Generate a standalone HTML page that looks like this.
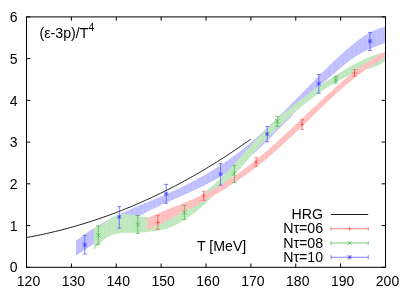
<!DOCTYPE html>
<html><head><meta charset="utf-8"><title>chart</title>
<style>
html,body{margin:0;padding:0;background:#fff;}
body{width:411px;height:296px;position:relative;overflow:hidden;font-family:"Liberation Sans",sans-serif;}
.t{position:absolute;white-space:nowrap;line-height:0;color:#000;font-family:"Liberation Sans",sans-serif;}
</style></head><body>
<svg width="411" height="296" viewBox="0 0 411 296" style="position:absolute;left:0;top:0">
<rect x="0" y="0" width="411" height="296" fill="#fff"/>
<defs><clipPath id="c"><rect x="26.50" y="16.90" width="359.00" height="250.40"/></clipPath></defs>
<path d="M26.50,267.30 v-3.8 M26.50,16.90 v3.8 M71.38,267.30 v-3.8 M71.38,16.90 v3.8 M116.25,267.30 v-3.8 M116.25,16.90 v3.8 M161.12,267.30 v-3.8 M161.12,16.90 v3.8 M206.00,267.30 v-3.8 M206.00,16.90 v3.8 M250.88,267.30 v-3.8 M250.88,16.90 v3.8 M295.75,267.30 v-3.8 M295.75,16.90 v3.8 M340.62,267.30 v-3.8 M340.62,16.90 v3.8 M385.50,267.30 v-3.8 M385.50,16.90 v3.8 M26.50,267.30 h3.8 M385.50,267.30 h-3.8 M26.50,225.57 h3.8 M385.50,225.57 h-3.8 M26.50,183.83 h3.8 M385.50,183.83 h-3.8 M26.50,142.10 h3.8 M385.50,142.10 h-3.8 M26.50,100.37 h3.8 M385.50,100.37 h-3.8 M26.50,58.63 h3.8 M385.50,58.63 h-3.8 M26.50,16.90 h3.8 M385.50,16.90 h-3.8" fill="none" stroke="#000" stroke-width="1.0"/>
<g clip-path="url(#c)">
<path id="b1" d="M75.90,240.87 L77.40,239.69 L78.91,238.54 L80.41,237.42 L81.91,236.31 L83.41,235.23 L84.92,234.16 L86.42,233.12 L87.92,232.09 L89.43,231.09 L90.93,230.10 L92.43,229.13 L93.93,228.18 L95.44,227.25 L96.94,226.34 L98.44,225.44 L99.95,224.55 L101.45,223.69 L102.95,222.83 L104.46,222.00 L105.96,221.17 L107.46,220.36 L108.96,219.56 L110.47,218.78 L111.97,218.01 L113.47,217.24 L114.98,216.49 L116.48,215.76 L117.98,215.03 L119.48,214.31 L120.99,213.60 L122.49,212.90 L123.99,212.20 L125.50,211.52 L127.00,210.84 L128.50,210.17 L130.00,209.51 L131.51,208.85 L133.01,208.19 L134.51,207.54 L136.02,206.90 L137.52,206.26 L139.02,205.62 L140.53,204.99 L142.03,204.36 L143.53,203.73 L145.03,203.11 L146.54,202.48 L148.04,201.85 L149.54,201.23 L151.05,200.60 L152.55,199.98 L154.05,199.35 L155.55,198.72 L157.06,198.09 L158.56,197.45 L160.06,196.82 L161.57,196.18 L163.07,195.53 L164.57,194.88 L166.07,194.22 L167.58,193.56 L169.08,192.90 L170.58,192.23 L172.09,191.55 L173.59,190.86 L175.09,190.17 L176.60,189.47 L178.10,188.77 L179.60,188.06 L181.10,187.34 L182.61,186.61 L184.11,185.87 L185.61,185.13 L187.12,184.38 L188.62,183.62 L190.12,182.86 L191.62,182.08 L193.13,181.30 L194.63,180.50 L196.13,179.70 L197.64,178.89 L199.14,178.07 L200.64,177.24 L202.14,176.40 L203.65,175.55 L205.15,174.68 L206.65,173.81 L208.16,172.93 L209.66,172.04 L211.16,171.13 L212.67,170.22 L214.17,169.29 L215.67,168.35 L217.17,167.40 L218.68,166.44 L220.18,165.46 L221.68,164.48 L223.19,163.48 L224.69,162.47 L226.19,161.44 L227.69,160.40 L229.20,159.35 L230.70,158.29 L232.20,157.21 L233.71,156.12 L235.21,155.01 L236.71,153.89 L238.21,152.76 L239.72,151.61 L241.22,150.44 L242.72,149.26 L244.23,148.07 L245.73,146.86 L247.23,145.63 L248.73,144.39 L250.24,143.13 L251.74,141.85 L253.24,140.55 L254.75,139.24 L256.25,137.91 L257.75,136.55 L259.26,135.18 L260.76,133.79 L262.26,132.38 L263.76,130.96 L265.27,129.53 L266.77,128.09 L268.27,126.64 L269.78,125.19 L271.28,123.73 L272.78,122.27 L274.28,120.82 L275.79,119.36 L277.29,117.90 L278.79,116.45 L280.30,114.98 L281.80,113.52 L283.30,112.05 L284.80,110.58 L286.31,109.10 L287.81,107.62 L289.31,106.13 L290.82,104.63 L292.32,103.12 L293.82,101.60 L295.33,100.08 L296.83,98.54 L298.33,97.00 L299.83,95.46 L301.34,93.91 L302.84,92.35 L304.34,90.80 L305.85,89.24 L307.35,87.69 L308.85,86.14 L310.35,84.59 L311.86,83.04 L313.36,81.50 L314.86,79.96 L316.37,78.43 L317.87,76.91 L319.37,75.39 L320.87,73.88 L322.38,72.38 L323.88,70.88 L325.38,69.39 L326.89,67.92 L328.39,66.45 L329.89,64.99 L331.40,63.55 L332.90,62.11 L334.40,60.69 L335.90,59.28 L337.41,57.88 L338.91,56.50 L340.41,55.13 L341.92,53.78 L343.42,52.44 L344.92,51.12 L346.42,49.81 L347.93,48.52 L349.43,47.25 L350.93,46.00 L352.44,44.77 L353.94,43.55 L355.44,42.37 L356.94,41.20 L358.45,40.07 L359.95,38.96 L361.45,37.89 L362.96,36.85 L364.46,35.85 L365.96,34.89 L367.47,33.96 L368.97,33.08 L370.47,32.24 L371.97,31.45 L373.48,30.71 L374.98,30.01 L376.48,29.37 L377.99,28.79 L379.49,28.26 L380.99,27.79 L382.49,27.38 L384.00,27.03 L385.50,26.75 L385.50,43.06 L384.00,43.55 L382.49,44.05 L380.99,44.57 L379.49,45.10 L377.99,45.65 L376.48,46.22 L374.98,46.80 L373.48,47.41 L371.97,48.03 L370.47,48.68 L368.97,49.35 L367.47,50.05 L365.96,50.78 L364.46,51.53 L362.96,52.31 L361.45,53.12 L359.95,53.96 L358.45,54.84 L356.94,55.75 L355.44,56.70 L353.94,57.68 L352.44,58.70 L350.93,59.76 L349.43,60.86 L347.93,61.99 L346.42,63.16 L344.92,64.35 L343.42,65.56 L341.92,66.80 L340.41,68.06 L338.91,69.33 L337.41,70.61 L335.90,71.90 L334.40,73.20 L332.90,74.50 L331.40,75.79 L329.89,77.09 L328.39,78.37 L326.89,79.65 L325.38,80.91 L323.88,82.16 L322.38,83.38 L320.87,84.58 L319.37,85.76 L317.87,86.90 L316.37,88.03 L314.86,89.15 L313.36,90.29 L311.86,91.47 L310.35,92.71 L308.85,94.02 L307.35,95.42 L305.85,96.94 L304.34,98.59 L302.84,100.39 L301.34,102.35 L299.83,104.48 L298.33,106.69 L296.83,108.94 L295.33,111.15 L293.82,113.26 L292.32,115.20 L290.82,116.97 L289.31,118.60 L287.81,120.13 L286.31,121.60 L284.80,123.03 L283.30,124.48 L281.80,125.95 L280.30,127.45 L278.79,128.96 L277.29,130.49 L275.79,132.03 L274.28,133.58 L272.78,135.13 L271.28,136.67 L269.78,138.21 L268.27,139.75 L266.77,141.26 L265.27,142.76 L263.76,144.24 L262.26,145.69 L260.76,147.12 L259.26,148.51 L257.75,149.88 L256.25,151.23 L254.75,152.55 L253.24,153.84 L251.74,155.11 L250.24,156.36 L248.73,157.58 L247.23,158.78 L245.73,159.95 L244.23,161.11 L242.72,162.24 L241.22,163.35 L239.72,164.44 L238.21,165.51 L236.71,166.56 L235.21,167.59 L233.71,168.61 L232.20,169.60 L230.70,170.58 L229.20,171.54 L227.69,172.48 L226.19,173.41 L224.69,174.32 L223.19,175.21 L221.68,176.09 L220.18,176.96 L218.68,177.81 L217.17,178.65 L215.67,179.48 L214.17,180.29 L212.67,181.09 L211.16,181.88 L209.66,182.66 L208.16,183.43 L206.65,184.19 L205.15,184.94 L203.65,185.68 L202.14,186.42 L200.64,187.14 L199.14,187.86 L197.64,188.57 L196.13,189.27 L194.63,189.97 L193.13,190.66 L191.62,191.35 L190.12,192.03 L188.62,192.71 L187.12,193.39 L185.61,194.06 L184.11,194.73 L182.61,195.39 L181.10,196.06 L179.60,196.73 L178.10,197.39 L176.60,198.05 L175.09,198.72 L173.59,199.39 L172.09,200.05 L170.58,200.72 L169.08,201.40 L167.58,202.07 L166.07,202.75 L164.57,203.44 L163.07,204.12 L161.57,204.82 L160.06,205.52 L158.56,206.22 L157.06,206.93 L155.55,207.65 L154.05,208.38 L152.55,209.11 L151.05,209.86 L149.54,210.61 L148.04,211.37 L146.54,212.15 L145.03,212.93 L143.53,213.72 L142.03,214.52 L140.53,215.34 L139.02,216.16 L137.52,216.99 L136.02,217.82 L134.51,218.67 L133.01,219.52 L131.51,220.39 L130.00,221.26 L128.50,222.13 L127.00,223.02 L125.50,223.91 L123.99,224.80 L122.49,225.71 L120.99,226.62 L119.48,227.53 L117.98,228.46 L116.48,229.38 L114.98,230.32 L113.47,231.25 L111.97,232.20 L110.47,233.14 L108.96,234.09 L107.46,235.05 L105.96,236.01 L104.46,236.97 L102.95,237.93 L101.45,238.90 L99.95,239.87 L98.44,240.85 L96.94,241.82 L95.44,242.80 L93.93,243.78 L92.43,244.77 L90.93,245.75 L89.43,246.73 L87.92,247.72 L86.42,248.70 L84.92,249.69 L83.41,250.68 L81.91,251.66 L80.41,252.65 L78.91,253.64 L77.40,254.62 L75.90,255.61 Z" fill="#bfbfff" stroke="none"/><clipPath id="cb1"><path d="M75.90,240.87 L77.40,239.69 L78.91,238.54 L80.41,237.42 L81.91,236.31 L83.41,235.23 L84.92,234.16 L86.42,233.12 L87.92,232.09 L89.43,231.09 L90.93,230.10 L92.43,229.13 L93.93,228.18 L95.44,227.25 L96.94,226.34 L98.44,225.44 L99.95,224.55 L101.45,223.69 L102.95,222.83 L104.46,222.00 L105.96,221.17 L107.46,220.36 L108.96,219.56 L110.47,218.78 L111.97,218.01 L113.47,217.24 L114.98,216.49 L116.48,215.76 L117.98,215.03 L119.48,214.31 L120.99,213.60 L122.49,212.90 L123.99,212.20 L125.50,211.52 L127.00,210.84 L128.50,210.17 L130.00,209.51 L131.51,208.85 L133.01,208.19 L134.51,207.54 L136.02,206.90 L137.52,206.26 L139.02,205.62 L140.53,204.99 L142.03,204.36 L143.53,203.73 L145.03,203.11 L146.54,202.48 L148.04,201.85 L149.54,201.23 L151.05,200.60 L152.55,199.98 L154.05,199.35 L155.55,198.72 L157.06,198.09 L158.56,197.45 L160.06,196.82 L161.57,196.18 L163.07,195.53 L164.57,194.88 L166.07,194.22 L167.58,193.56 L169.08,192.90 L170.58,192.23 L172.09,191.55 L173.59,190.86 L175.09,190.17 L176.60,189.47 L178.10,188.77 L179.60,188.06 L181.10,187.34 L182.61,186.61 L184.11,185.87 L185.61,185.13 L187.12,184.38 L188.62,183.62 L190.12,182.86 L191.62,182.08 L193.13,181.30 L194.63,180.50 L196.13,179.70 L197.64,178.89 L199.14,178.07 L200.64,177.24 L202.14,176.40 L203.65,175.55 L205.15,174.68 L206.65,173.81 L208.16,172.93 L209.66,172.04 L211.16,171.13 L212.67,170.22 L214.17,169.29 L215.67,168.35 L217.17,167.40 L218.68,166.44 L220.18,165.46 L221.68,164.48 L223.19,163.48 L224.69,162.47 L226.19,161.44 L227.69,160.40 L229.20,159.35 L230.70,158.29 L232.20,157.21 L233.71,156.12 L235.21,155.01 L236.71,153.89 L238.21,152.76 L239.72,151.61 L241.22,150.44 L242.72,149.26 L244.23,148.07 L245.73,146.86 L247.23,145.63 L248.73,144.39 L250.24,143.13 L251.74,141.85 L253.24,140.55 L254.75,139.24 L256.25,137.91 L257.75,136.55 L259.26,135.18 L260.76,133.79 L262.26,132.38 L263.76,130.96 L265.27,129.53 L266.77,128.09 L268.27,126.64 L269.78,125.19 L271.28,123.73 L272.78,122.27 L274.28,120.82 L275.79,119.36 L277.29,117.90 L278.79,116.45 L280.30,114.98 L281.80,113.52 L283.30,112.05 L284.80,110.58 L286.31,109.10 L287.81,107.62 L289.31,106.13 L290.82,104.63 L292.32,103.12 L293.82,101.60 L295.33,100.08 L296.83,98.54 L298.33,97.00 L299.83,95.46 L301.34,93.91 L302.84,92.35 L304.34,90.80 L305.85,89.24 L307.35,87.69 L308.85,86.14 L310.35,84.59 L311.86,83.04 L313.36,81.50 L314.86,79.96 L316.37,78.43 L317.87,76.91 L319.37,75.39 L320.87,73.88 L322.38,72.38 L323.88,70.88 L325.38,69.39 L326.89,67.92 L328.39,66.45 L329.89,64.99 L331.40,63.55 L332.90,62.11 L334.40,60.69 L335.90,59.28 L337.41,57.88 L338.91,56.50 L340.41,55.13 L341.92,53.78 L343.42,52.44 L344.92,51.12 L346.42,49.81 L347.93,48.52 L349.43,47.25 L350.93,46.00 L352.44,44.77 L353.94,43.55 L355.44,42.37 L356.94,41.20 L358.45,40.07 L359.95,38.96 L361.45,37.89 L362.96,36.85 L364.46,35.85 L365.96,34.89 L367.47,33.96 L368.97,33.08 L370.47,32.24 L371.97,31.45 L373.48,30.71 L374.98,30.01 L376.48,29.37 L377.99,28.79 L379.49,28.26 L380.99,27.79 L382.49,27.38 L384.00,27.03 L385.50,26.75 L385.50,43.06 L384.00,43.55 L382.49,44.05 L380.99,44.57 L379.49,45.10 L377.99,45.65 L376.48,46.22 L374.98,46.80 L373.48,47.41 L371.97,48.03 L370.47,48.68 L368.97,49.35 L367.47,50.05 L365.96,50.78 L364.46,51.53 L362.96,52.31 L361.45,53.12 L359.95,53.96 L358.45,54.84 L356.94,55.75 L355.44,56.70 L353.94,57.68 L352.44,58.70 L350.93,59.76 L349.43,60.86 L347.93,61.99 L346.42,63.16 L344.92,64.35 L343.42,65.56 L341.92,66.80 L340.41,68.06 L338.91,69.33 L337.41,70.61 L335.90,71.90 L334.40,73.20 L332.90,74.50 L331.40,75.79 L329.89,77.09 L328.39,78.37 L326.89,79.65 L325.38,80.91 L323.88,82.16 L322.38,83.38 L320.87,84.58 L319.37,85.76 L317.87,86.90 L316.37,88.03 L314.86,89.15 L313.36,90.29 L311.86,91.47 L310.35,92.71 L308.85,94.02 L307.35,95.42 L305.85,96.94 L304.34,98.59 L302.84,100.39 L301.34,102.35 L299.83,104.48 L298.33,106.69 L296.83,108.94 L295.33,111.15 L293.82,113.26 L292.32,115.20 L290.82,116.97 L289.31,118.60 L287.81,120.13 L286.31,121.60 L284.80,123.03 L283.30,124.48 L281.80,125.95 L280.30,127.45 L278.79,128.96 L277.29,130.49 L275.79,132.03 L274.28,133.58 L272.78,135.13 L271.28,136.67 L269.78,138.21 L268.27,139.75 L266.77,141.26 L265.27,142.76 L263.76,144.24 L262.26,145.69 L260.76,147.12 L259.26,148.51 L257.75,149.88 L256.25,151.23 L254.75,152.55 L253.24,153.84 L251.74,155.11 L250.24,156.36 L248.73,157.58 L247.23,158.78 L245.73,159.95 L244.23,161.11 L242.72,162.24 L241.22,163.35 L239.72,164.44 L238.21,165.51 L236.71,166.56 L235.21,167.59 L233.71,168.61 L232.20,169.60 L230.70,170.58 L229.20,171.54 L227.69,172.48 L226.19,173.41 L224.69,174.32 L223.19,175.21 L221.68,176.09 L220.18,176.96 L218.68,177.81 L217.17,178.65 L215.67,179.48 L214.17,180.29 L212.67,181.09 L211.16,181.88 L209.66,182.66 L208.16,183.43 L206.65,184.19 L205.15,184.94 L203.65,185.68 L202.14,186.42 L200.64,187.14 L199.14,187.86 L197.64,188.57 L196.13,189.27 L194.63,189.97 L193.13,190.66 L191.62,191.35 L190.12,192.03 L188.62,192.71 L187.12,193.39 L185.61,194.06 L184.11,194.73 L182.61,195.39 L181.10,196.06 L179.60,196.73 L178.10,197.39 L176.60,198.05 L175.09,198.72 L173.59,199.39 L172.09,200.05 L170.58,200.72 L169.08,201.40 L167.58,202.07 L166.07,202.75 L164.57,203.44 L163.07,204.12 L161.57,204.82 L160.06,205.52 L158.56,206.22 L157.06,206.93 L155.55,207.65 L154.05,208.38 L152.55,209.11 L151.05,209.86 L149.54,210.61 L148.04,211.37 L146.54,212.15 L145.03,212.93 L143.53,213.72 L142.03,214.52 L140.53,215.34 L139.02,216.16 L137.52,216.99 L136.02,217.82 L134.51,218.67 L133.01,219.52 L131.51,220.39 L130.00,221.26 L128.50,222.13 L127.00,223.02 L125.50,223.91 L123.99,224.80 L122.49,225.71 L120.99,226.62 L119.48,227.53 L117.98,228.46 L116.48,229.38 L114.98,230.32 L113.47,231.25 L111.97,232.20 L110.47,233.14 L108.96,234.09 L107.46,235.05 L105.96,236.01 L104.46,236.97 L102.95,237.93 L101.45,238.90 L99.95,239.87 L98.44,240.85 L96.94,241.82 L95.44,242.80 L93.93,243.78 L92.43,244.77 L90.93,245.75 L89.43,246.73 L87.92,247.72 L86.42,248.70 L84.92,249.69 L83.41,250.68 L81.91,251.66 L80.41,252.65 L78.91,253.64 L77.40,254.62 L75.90,255.61 Z"/></clipPath><path clip-path="url(#cb1)" d="M80.35,24.7 V257.5 M84.84,24.7 V257.5 M89.33,24.7 V257.5 M93.81,24.7 V257.5 M98.30,24.7 V257.5 M102.79,24.7 V257.5 M107.28,24.7 V257.5 M111.76,24.7 V257.5 M116.25,24.7 V257.5 M120.74,24.7 V257.5 M125.22,24.7 V257.5 M129.71,24.7 V257.5 M134.20,24.7 V257.5 M138.69,24.7 V257.5 M143.18,24.7 V257.5 M147.66,24.7 V257.5 M152.15,24.7 V257.5 M156.64,24.7 V257.5 M161.12,24.7 V257.5 M165.61,24.7 V257.5 M170.10,24.7 V257.5 M174.59,24.7 V257.5 M179.07,24.7 V257.5 M183.56,24.7 V257.5 M188.05,24.7 V257.5 M192.54,24.7 V257.5 M197.03,24.7 V257.5 M201.51,24.7 V257.5 M206.00,24.7 V257.5 M210.49,24.7 V257.5 M214.97,24.7 V257.5 M219.46,24.7 V257.5 M223.95,24.7 V257.5 M228.44,24.7 V257.5 M232.93,24.7 V257.5 M237.41,24.7 V257.5 M241.90,24.7 V257.5 M246.39,24.7 V257.5 M250.88,24.7 V257.5 M255.36,24.7 V257.5 M259.85,24.7 V257.5 M264.34,24.7 V257.5 M268.82,24.7 V257.5 M273.31,24.7 V257.5 M277.80,24.7 V257.5 M282.29,24.7 V257.5 M286.77,24.7 V257.5 M291.26,24.7 V257.5 M295.75,24.7 V257.5 M300.24,24.7 V257.5 M304.73,24.7 V257.5 M309.21,24.7 V257.5 M313.70,24.7 V257.5 M318.19,24.7 V257.5 M322.68,24.7 V257.5 M327.16,24.7 V257.5 M331.65,24.7 V257.5 M336.14,24.7 V257.5 M340.62,24.7 V257.5 M345.11,24.7 V257.5 M349.60,24.7 V257.5 M354.09,24.7 V257.5 M358.57,24.7 V257.5 M363.06,24.7 V257.5 M367.55,24.7 V257.5 M372.04,24.7 V257.5 M376.52,24.7 V257.5 M381.01,24.7 V257.5" fill="none" stroke="#fff" stroke-width="1.0" stroke-opacity="0.11"/>
<path id="b2" d="M93.90,228.08 L95.40,227.62 L96.91,227.04 L98.41,226.34 L99.91,225.55 L101.42,224.68 L102.92,223.75 L104.42,222.78 L105.92,221.79 L107.43,220.78 L108.93,219.79 L110.43,218.82 L111.94,217.90 L113.44,217.04 L114.94,216.25 L116.45,215.57 L117.95,215.00 L119.45,214.56 L120.96,214.27 L122.46,214.10 L123.96,214.05 L125.46,214.10 L126.97,214.23 L128.47,214.44 L129.97,214.69 L131.48,214.98 L132.98,215.29 L134.48,215.61 L135.99,215.92 L137.49,216.21 L138.99,216.46 L140.50,216.66 L142.00,216.82 L143.50,216.94 L145.01,217.02 L146.51,217.06 L148.01,217.06 L149.51,217.02 L151.02,216.94 L152.52,216.82 L154.02,216.66 L155.53,216.47 L157.03,216.23 L158.53,215.97 L160.04,215.66 L161.54,215.32 L163.04,214.94 L164.55,214.53 L166.05,214.08 L167.55,213.60 L169.05,213.09 L170.56,212.54 L172.06,211.96 L173.56,211.35 L175.07,210.70 L176.57,210.03 L178.07,209.32 L179.58,208.59 L181.08,207.82 L182.58,207.03 L184.09,206.20 L185.59,205.35 L187.09,204.47 L188.59,203.57 L190.10,202.63 L191.60,201.67 L193.10,200.69 L194.61,199.68 L196.11,198.64 L197.61,197.58 L199.12,196.49 L200.62,195.39 L202.12,194.25 L203.63,193.10 L205.13,191.92 L206.63,190.71 L208.14,189.48 L209.64,188.23 L211.14,186.95 L212.64,185.65 L214.15,184.32 L215.65,182.97 L217.15,181.59 L218.66,180.18 L220.16,178.75 L221.66,177.29 L223.17,175.81 L224.67,174.30 L226.17,172.76 L227.68,171.20 L229.18,169.61 L230.68,167.99 L232.18,166.35 L233.69,164.69 L235.19,163.01 L236.69,161.32 L238.20,159.62 L239.70,157.92 L241.20,156.21 L242.71,154.50 L244.21,152.79 L245.71,151.10 L247.22,149.41 L248.72,147.73 L250.22,146.07 L251.72,144.42 L253.23,142.78 L254.73,141.16 L256.23,139.56 L257.74,137.97 L259.24,136.41 L260.74,134.85 L262.25,133.32 L263.75,131.81 L265.25,130.31 L266.76,128.83 L268.26,127.38 L269.76,125.94 L271.26,124.51 L272.77,123.11 L274.27,121.72 L275.77,120.35 L277.28,118.99 L278.78,117.65 L280.28,116.33 L281.79,115.02 L283.29,113.73 L284.79,112.45 L286.30,111.18 L287.80,109.93 L289.30,108.69 L290.81,107.47 L292.31,106.26 L293.81,105.06 L295.31,103.87 L296.82,102.69 L298.32,101.53 L299.82,100.37 L301.33,99.23 L302.83,98.10 L304.33,96.98 L305.84,95.86 L307.34,94.76 L308.84,93.66 L310.35,92.58 L311.85,91.50 L313.35,90.43 L314.85,89.37 L316.36,88.31 L317.86,87.26 L319.36,86.22 L320.87,85.18 L322.37,84.15 L323.87,83.13 L325.38,82.11 L326.88,81.10 L328.38,80.09 L329.89,79.09 L331.39,78.09 L332.89,77.11 L334.39,76.13 L335.90,75.16 L337.40,74.20 L338.90,73.25 L340.41,72.31 L341.91,71.39 L343.41,70.47 L344.92,69.57 L346.42,68.68 L347.92,67.81 L349.43,66.95 L350.93,66.10 L352.43,65.27 L353.94,64.46 L355.44,63.66 L356.94,62.88 L358.44,62.11 L359.95,61.37 L361.45,60.64 L362.95,59.94 L364.46,59.25 L365.96,58.59 L367.46,57.94 L368.97,57.32 L370.47,56.72 L371.97,56.14 L373.48,55.59 L374.98,55.06 L376.48,54.56 L377.98,54.08 L379.49,53.62 L380.99,53.20 L382.49,52.80 L384.00,52.43 L385.50,52.08 L385.50,60.37 L384.00,61.68 L382.49,62.84 L380.99,63.86 L379.49,64.75 L377.98,65.53 L376.48,66.22 L374.98,66.82 L373.48,67.36 L371.97,67.85 L370.47,68.31 L368.97,68.74 L367.46,69.16 L365.96,69.60 L364.46,70.05 L362.95,70.51 L361.45,70.99 L359.95,71.49 L358.44,72.00 L356.94,72.54 L355.44,73.09 L353.94,73.66 L352.43,74.25 L350.93,74.87 L349.43,75.50 L347.92,76.16 L346.42,76.84 L344.92,77.54 L343.41,78.27 L341.91,79.02 L340.41,79.80 L338.90,80.60 L337.40,81.42 L335.90,82.27 L334.39,83.14 L332.89,84.03 L331.39,84.94 L329.89,85.87 L328.38,86.81 L326.88,87.78 L325.38,88.77 L323.87,89.78 L322.37,90.80 L320.87,91.84 L319.36,92.90 L317.86,93.97 L316.36,95.06 L314.85,96.16 L313.35,97.27 L311.85,98.41 L310.35,99.55 L308.84,100.70 L307.34,101.87 L305.84,103.06 L304.33,104.25 L302.83,105.46 L301.33,106.68 L299.82,107.92 L298.32,109.17 L296.82,110.43 L295.31,111.70 L293.81,112.99 L292.31,114.30 L290.81,115.61 L289.30,116.94 L287.80,118.29 L286.30,119.65 L284.79,121.02 L283.29,122.40 L281.79,123.81 L280.28,125.22 L278.78,126.65 L277.28,128.10 L275.77,129.55 L274.27,131.03 L272.77,132.52 L271.26,134.02 L269.76,135.54 L268.26,137.07 L266.76,138.62 L265.25,140.18 L263.75,141.76 L262.25,143.35 L260.74,144.96 L259.24,146.59 L257.74,148.23 L256.23,149.88 L254.73,151.56 L253.23,153.24 L251.72,154.95 L250.22,156.66 L248.72,158.40 L247.22,160.14 L245.71,161.88 L244.21,163.63 L242.71,165.37 L241.20,167.11 L239.70,168.83 L238.20,170.53 L236.69,172.21 L235.19,173.87 L233.69,175.49 L232.18,177.08 L230.68,178.64 L229.18,180.18 L227.68,181.70 L226.17,183.19 L224.67,184.68 L223.17,186.15 L221.66,187.61 L220.16,189.07 L218.66,190.52 L217.15,191.98 L215.65,193.45 L214.15,194.92 L212.64,196.40 L211.14,197.88 L209.64,199.36 L208.14,200.83 L206.63,202.28 L205.13,203.71 L203.63,205.10 L202.12,206.46 L200.62,207.78 L199.12,209.05 L197.61,210.29 L196.11,211.48 L194.61,212.64 L193.10,213.77 L191.60,214.86 L190.10,215.92 L188.59,216.95 L187.09,217.96 L185.59,218.94 L184.09,219.90 L182.58,220.83 L181.08,221.75 L179.58,222.65 L178.07,223.53 L176.57,224.40 L175.07,225.23 L173.56,225.99 L172.06,226.69 L170.56,227.31 L169.05,227.88 L167.55,228.38 L166.05,228.83 L164.55,229.23 L163.04,229.59 L161.54,229.91 L160.04,230.21 L158.53,230.48 L157.03,230.74 L155.53,230.98 L154.02,231.21 L152.52,231.42 L151.02,231.62 L149.51,231.80 L148.01,231.97 L146.51,232.12 L145.01,232.26 L143.50,232.38 L142.00,232.48 L140.50,232.56 L138.99,232.62 L137.49,232.67 L135.99,232.69 L134.48,232.70 L132.98,232.69 L131.48,232.67 L129.97,232.66 L128.47,232.65 L126.97,232.66 L125.46,232.69 L123.96,232.75 L122.46,232.85 L120.96,232.98 L119.45,233.17 L117.95,233.41 L116.45,233.72 L114.94,234.10 L113.44,234.55 L111.94,235.09 L110.43,235.72 L108.93,236.44 L107.43,237.28 L105.92,238.22 L104.42,239.28 L102.92,240.47 L101.42,241.80 L99.91,243.26 L98.41,244.87 L96.91,246.63 L95.40,248.56 L93.90,250.65 Z" fill="#bfe8bf" stroke="none"/><clipPath id="cb2"><path d="M93.90,228.08 L95.40,227.62 L96.91,227.04 L98.41,226.34 L99.91,225.55 L101.42,224.68 L102.92,223.75 L104.42,222.78 L105.92,221.79 L107.43,220.78 L108.93,219.79 L110.43,218.82 L111.94,217.90 L113.44,217.04 L114.94,216.25 L116.45,215.57 L117.95,215.00 L119.45,214.56 L120.96,214.27 L122.46,214.10 L123.96,214.05 L125.46,214.10 L126.97,214.23 L128.47,214.44 L129.97,214.69 L131.48,214.98 L132.98,215.29 L134.48,215.61 L135.99,215.92 L137.49,216.21 L138.99,216.46 L140.50,216.66 L142.00,216.82 L143.50,216.94 L145.01,217.02 L146.51,217.06 L148.01,217.06 L149.51,217.02 L151.02,216.94 L152.52,216.82 L154.02,216.66 L155.53,216.47 L157.03,216.23 L158.53,215.97 L160.04,215.66 L161.54,215.32 L163.04,214.94 L164.55,214.53 L166.05,214.08 L167.55,213.60 L169.05,213.09 L170.56,212.54 L172.06,211.96 L173.56,211.35 L175.07,210.70 L176.57,210.03 L178.07,209.32 L179.58,208.59 L181.08,207.82 L182.58,207.03 L184.09,206.20 L185.59,205.35 L187.09,204.47 L188.59,203.57 L190.10,202.63 L191.60,201.67 L193.10,200.69 L194.61,199.68 L196.11,198.64 L197.61,197.58 L199.12,196.49 L200.62,195.39 L202.12,194.25 L203.63,193.10 L205.13,191.92 L206.63,190.71 L208.14,189.48 L209.64,188.23 L211.14,186.95 L212.64,185.65 L214.15,184.32 L215.65,182.97 L217.15,181.59 L218.66,180.18 L220.16,178.75 L221.66,177.29 L223.17,175.81 L224.67,174.30 L226.17,172.76 L227.68,171.20 L229.18,169.61 L230.68,167.99 L232.18,166.35 L233.69,164.69 L235.19,163.01 L236.69,161.32 L238.20,159.62 L239.70,157.92 L241.20,156.21 L242.71,154.50 L244.21,152.79 L245.71,151.10 L247.22,149.41 L248.72,147.73 L250.22,146.07 L251.72,144.42 L253.23,142.78 L254.73,141.16 L256.23,139.56 L257.74,137.97 L259.24,136.41 L260.74,134.85 L262.25,133.32 L263.75,131.81 L265.25,130.31 L266.76,128.83 L268.26,127.38 L269.76,125.94 L271.26,124.51 L272.77,123.11 L274.27,121.72 L275.77,120.35 L277.28,118.99 L278.78,117.65 L280.28,116.33 L281.79,115.02 L283.29,113.73 L284.79,112.45 L286.30,111.18 L287.80,109.93 L289.30,108.69 L290.81,107.47 L292.31,106.26 L293.81,105.06 L295.31,103.87 L296.82,102.69 L298.32,101.53 L299.82,100.37 L301.33,99.23 L302.83,98.10 L304.33,96.98 L305.84,95.86 L307.34,94.76 L308.84,93.66 L310.35,92.58 L311.85,91.50 L313.35,90.43 L314.85,89.37 L316.36,88.31 L317.86,87.26 L319.36,86.22 L320.87,85.18 L322.37,84.15 L323.87,83.13 L325.38,82.11 L326.88,81.10 L328.38,80.09 L329.89,79.09 L331.39,78.09 L332.89,77.11 L334.39,76.13 L335.90,75.16 L337.40,74.20 L338.90,73.25 L340.41,72.31 L341.91,71.39 L343.41,70.47 L344.92,69.57 L346.42,68.68 L347.92,67.81 L349.43,66.95 L350.93,66.10 L352.43,65.27 L353.94,64.46 L355.44,63.66 L356.94,62.88 L358.44,62.11 L359.95,61.37 L361.45,60.64 L362.95,59.94 L364.46,59.25 L365.96,58.59 L367.46,57.94 L368.97,57.32 L370.47,56.72 L371.97,56.14 L373.48,55.59 L374.98,55.06 L376.48,54.56 L377.98,54.08 L379.49,53.62 L380.99,53.20 L382.49,52.80 L384.00,52.43 L385.50,52.08 L385.50,60.37 L384.00,61.68 L382.49,62.84 L380.99,63.86 L379.49,64.75 L377.98,65.53 L376.48,66.22 L374.98,66.82 L373.48,67.36 L371.97,67.85 L370.47,68.31 L368.97,68.74 L367.46,69.16 L365.96,69.60 L364.46,70.05 L362.95,70.51 L361.45,70.99 L359.95,71.49 L358.44,72.00 L356.94,72.54 L355.44,73.09 L353.94,73.66 L352.43,74.25 L350.93,74.87 L349.43,75.50 L347.92,76.16 L346.42,76.84 L344.92,77.54 L343.41,78.27 L341.91,79.02 L340.41,79.80 L338.90,80.60 L337.40,81.42 L335.90,82.27 L334.39,83.14 L332.89,84.03 L331.39,84.94 L329.89,85.87 L328.38,86.81 L326.88,87.78 L325.38,88.77 L323.87,89.78 L322.37,90.80 L320.87,91.84 L319.36,92.90 L317.86,93.97 L316.36,95.06 L314.85,96.16 L313.35,97.27 L311.85,98.41 L310.35,99.55 L308.84,100.70 L307.34,101.87 L305.84,103.06 L304.33,104.25 L302.83,105.46 L301.33,106.68 L299.82,107.92 L298.32,109.17 L296.82,110.43 L295.31,111.70 L293.81,112.99 L292.31,114.30 L290.81,115.61 L289.30,116.94 L287.80,118.29 L286.30,119.65 L284.79,121.02 L283.29,122.40 L281.79,123.81 L280.28,125.22 L278.78,126.65 L277.28,128.10 L275.77,129.55 L274.27,131.03 L272.77,132.52 L271.26,134.02 L269.76,135.54 L268.26,137.07 L266.76,138.62 L265.25,140.18 L263.75,141.76 L262.25,143.35 L260.74,144.96 L259.24,146.59 L257.74,148.23 L256.23,149.88 L254.73,151.56 L253.23,153.24 L251.72,154.95 L250.22,156.66 L248.72,158.40 L247.22,160.14 L245.71,161.88 L244.21,163.63 L242.71,165.37 L241.20,167.11 L239.70,168.83 L238.20,170.53 L236.69,172.21 L235.19,173.87 L233.69,175.49 L232.18,177.08 L230.68,178.64 L229.18,180.18 L227.68,181.70 L226.17,183.19 L224.67,184.68 L223.17,186.15 L221.66,187.61 L220.16,189.07 L218.66,190.52 L217.15,191.98 L215.65,193.45 L214.15,194.92 L212.64,196.40 L211.14,197.88 L209.64,199.36 L208.14,200.83 L206.63,202.28 L205.13,203.71 L203.63,205.10 L202.12,206.46 L200.62,207.78 L199.12,209.05 L197.61,210.29 L196.11,211.48 L194.61,212.64 L193.10,213.77 L191.60,214.86 L190.10,215.92 L188.59,216.95 L187.09,217.96 L185.59,218.94 L184.09,219.90 L182.58,220.83 L181.08,221.75 L179.58,222.65 L178.07,223.53 L176.57,224.40 L175.07,225.23 L173.56,225.99 L172.06,226.69 L170.56,227.31 L169.05,227.88 L167.55,228.38 L166.05,228.83 L164.55,229.23 L163.04,229.59 L161.54,229.91 L160.04,230.21 L158.53,230.48 L157.03,230.74 L155.53,230.98 L154.02,231.21 L152.52,231.42 L151.02,231.62 L149.51,231.80 L148.01,231.97 L146.51,232.12 L145.01,232.26 L143.50,232.38 L142.00,232.48 L140.50,232.56 L138.99,232.62 L137.49,232.67 L135.99,232.69 L134.48,232.70 L132.98,232.69 L131.48,232.67 L129.97,232.66 L128.47,232.65 L126.97,232.66 L125.46,232.69 L123.96,232.75 L122.46,232.85 L120.96,232.98 L119.45,233.17 L117.95,233.41 L116.45,233.72 L114.94,234.10 L113.44,234.55 L111.94,235.09 L110.43,235.72 L108.93,236.44 L107.43,237.28 L105.92,238.22 L104.42,239.28 L102.92,240.47 L101.42,241.80 L99.91,243.26 L98.41,244.87 L96.91,246.63 L95.40,248.56 L93.90,250.65 Z"/></clipPath><path clip-path="url(#cb2)" d="M98.30,50.0 V253.0 M102.79,50.0 V253.0 M107.28,50.0 V253.0 M111.76,50.0 V253.0 M116.25,50.0 V253.0 M120.74,50.0 V253.0 M125.22,50.0 V253.0 M129.71,50.0 V253.0 M134.20,50.0 V253.0 M138.69,50.0 V253.0 M143.18,50.0 V253.0 M147.66,50.0 V253.0 M152.15,50.0 V253.0 M156.64,50.0 V253.0 M161.12,50.0 V253.0 M165.61,50.0 V253.0 M170.10,50.0 V253.0 M174.59,50.0 V253.0 M179.07,50.0 V253.0 M183.56,50.0 V253.0 M188.05,50.0 V253.0 M192.54,50.0 V253.0 M197.03,50.0 V253.0 M201.51,50.0 V253.0 M206.00,50.0 V253.0 M210.49,50.0 V253.0 M214.97,50.0 V253.0 M219.46,50.0 V253.0 M223.95,50.0 V253.0 M228.44,50.0 V253.0 M232.93,50.0 V253.0 M237.41,50.0 V253.0 M241.90,50.0 V253.0 M246.39,50.0 V253.0 M250.88,50.0 V253.0 M255.36,50.0 V253.0 M259.85,50.0 V253.0 M264.34,50.0 V253.0 M268.82,50.0 V253.0 M273.31,50.0 V253.0 M277.80,50.0 V253.0 M282.29,50.0 V253.0 M286.77,50.0 V253.0 M291.26,50.0 V253.0 M295.75,50.0 V253.0 M300.24,50.0 V253.0 M304.73,50.0 V253.0 M309.21,50.0 V253.0 M313.70,50.0 V253.0 M318.19,50.0 V253.0 M322.68,50.0 V253.0 M327.16,50.0 V253.0 M331.65,50.0 V253.0 M336.14,50.0 V253.0 M340.62,50.0 V253.0 M345.11,50.0 V253.0 M349.60,50.0 V253.0 M354.09,50.0 V253.0 M358.57,50.0 V253.0 M363.06,50.0 V253.0 M367.55,50.0 V253.0 M372.04,50.0 V253.0 M376.52,50.0 V253.0 M381.01,50.0 V253.0" fill="none" stroke="#fff" stroke-width="1.0" stroke-opacity="0.11"/>
<path id="b3" d="M147.50,218.13 L149.01,217.42 L150.51,216.72 L152.02,216.03 L153.53,215.36 L155.03,214.69 L156.54,214.03 L158.04,213.38 L159.55,212.74 L161.06,212.10 L162.56,211.47 L164.07,210.85 L165.58,210.23 L167.08,209.62 L168.59,209.01 L170.09,208.41 L171.60,207.81 L173.11,207.21 L174.61,206.61 L176.12,206.01 L177.63,205.42 L179.13,204.82 L180.64,204.22 L182.15,203.62 L183.65,203.02 L185.16,202.41 L186.66,201.80 L188.17,201.18 L189.68,200.56 L191.18,199.93 L192.69,199.29 L194.20,198.64 L195.70,197.98 L197.21,197.31 L198.72,196.62 L200.22,195.93 L201.73,195.22 L203.23,194.50 L204.74,193.76 L206.25,193.00 L207.75,192.23 L209.26,191.44 L210.77,190.64 L212.27,189.82 L213.78,188.99 L215.28,188.14 L216.79,187.28 L218.30,186.40 L219.80,185.51 L221.31,184.60 L222.82,183.68 L224.32,182.74 L225.83,181.79 L227.34,180.83 L228.84,179.85 L230.35,178.85 L231.85,177.85 L233.36,176.83 L234.87,175.79 L236.37,174.75 L237.88,173.68 L239.39,172.61 L240.89,171.52 L242.40,170.42 L243.91,169.31 L245.41,168.19 L246.92,167.05 L248.42,165.90 L249.93,164.74 L251.44,163.56 L252.94,162.38 L254.45,161.18 L255.96,159.97 L257.46,158.75 L258.97,157.51 L260.47,156.27 L261.98,155.01 L263.49,153.74 L264.99,152.47 L266.50,151.18 L268.01,149.88 L269.51,148.57 L271.02,147.25 L272.53,145.91 L274.03,144.57 L275.54,143.22 L277.04,141.87 L278.55,140.50 L280.06,139.12 L281.56,137.74 L283.07,136.35 L284.58,134.96 L286.08,133.56 L287.59,132.15 L289.09,130.74 L290.60,129.33 L292.11,127.91 L293.61,126.49 L295.12,125.06 L296.63,123.63 L298.13,122.20 L299.64,120.77 L301.15,119.34 L302.65,117.90 L304.16,116.47 L305.66,115.04 L307.17,113.60 L308.68,112.17 L310.18,110.74 L311.69,109.31 L313.20,107.88 L314.70,106.46 L316.21,105.04 L317.72,103.63 L319.22,102.22 L320.73,100.81 L322.23,99.41 L323.74,98.01 L325.25,96.62 L326.75,95.24 L328.26,93.87 L329.77,92.50 L331.27,91.14 L332.78,89.79 L334.28,88.45 L335.79,87.11 L337.30,85.79 L338.80,84.48 L340.31,83.18 L341.82,81.89 L343.32,80.61 L344.83,79.34 L346.34,78.09 L347.84,76.85 L349.35,75.63 L350.85,74.41 L352.36,73.22 L353.87,72.03 L355.37,70.87 L356.88,69.72 L358.39,68.58 L359.89,67.47 L361.40,66.37 L362.91,65.28 L364.41,64.22 L365.92,63.17 L367.42,62.15 L368.93,61.14 L370.44,60.16 L371.94,59.19 L373.45,58.25 L374.96,57.32 L376.46,56.42 L377.97,55.54 L379.47,54.69 L380.98,53.86 L382.49,53.05 L383.99,52.27 L385.50,51.51 L385.50,57.84 L383.99,58.58 L382.49,59.35 L380.98,60.14 L379.47,60.96 L377.97,61.81 L376.46,62.68 L374.96,63.58 L373.45,64.51 L371.94,65.45 L370.44,66.43 L368.93,67.42 L367.42,68.44 L365.92,69.48 L364.41,70.55 L362.91,71.63 L361.40,72.73 L359.89,73.86 L358.39,75.00 L356.88,76.16 L355.37,77.34 L353.87,78.54 L352.36,79.76 L350.85,80.99 L349.35,82.24 L347.84,83.50 L346.34,84.78 L344.83,86.07 L343.32,87.38 L341.82,88.70 L340.31,90.03 L338.80,91.37 L337.30,92.73 L335.79,94.09 L334.28,95.47 L332.78,96.86 L331.27,98.25 L329.77,99.65 L328.26,101.07 L326.75,102.49 L325.25,103.91 L323.74,105.35 L322.23,106.78 L320.73,108.23 L319.22,109.68 L317.72,111.13 L316.21,112.59 L314.70,114.04 L313.20,115.51 L311.69,116.97 L310.18,118.43 L308.68,119.90 L307.17,121.36 L305.66,122.83 L304.16,124.29 L302.65,125.76 L301.15,127.22 L299.64,128.67 L298.13,130.13 L296.63,131.58 L295.12,133.03 L293.61,134.47 L292.11,135.90 L290.60,137.33 L289.09,138.75 L287.59,140.17 L286.08,141.58 L284.58,142.98 L283.07,144.37 L281.56,145.75 L280.06,147.12 L278.55,148.48 L277.04,149.83 L275.54,151.17 L274.03,152.49 L272.53,153.81 L271.02,155.11 L269.51,156.39 L268.01,157.66 L266.50,158.92 L264.99,160.16 L263.49,161.39 L261.98,162.60 L260.47,163.81 L258.97,164.99 L257.46,166.17 L255.96,167.33 L254.45,168.48 L252.94,169.62 L251.44,170.75 L249.93,171.86 L248.42,172.96 L246.92,174.05 L245.41,175.13 L243.91,176.20 L242.40,177.25 L240.89,178.30 L239.39,179.33 L237.88,180.36 L236.37,181.37 L234.87,182.38 L233.36,183.37 L231.85,184.36 L230.35,185.33 L228.84,186.30 L227.34,187.26 L225.83,188.20 L224.32,189.14 L222.82,190.08 L221.31,191.00 L219.80,191.92 L218.30,192.82 L216.79,193.72 L215.28,194.62 L213.78,195.50 L212.27,196.38 L210.77,197.25 L209.26,198.12 L207.75,198.97 L206.25,199.83 L204.74,200.67 L203.23,201.51 L201.73,202.35 L200.22,203.18 L198.72,204.00 L197.21,204.82 L195.70,205.64 L194.20,206.45 L192.69,207.26 L191.18,208.06 L189.68,208.85 L188.17,209.65 L186.66,210.44 L185.16,211.23 L183.65,212.01 L182.15,212.79 L180.64,213.57 L179.13,214.34 L177.63,215.12 L176.12,215.89 L174.61,216.66 L173.11,217.43 L171.60,218.19 L170.09,218.96 L168.59,219.72 L167.08,220.48 L165.58,221.24 L164.07,222.00 L162.56,222.76 L161.06,223.52 L159.55,224.28 L158.04,225.05 L156.54,225.81 L155.03,226.57 L153.53,227.33 L152.02,228.10 L150.51,228.86 L149.01,229.63 L147.50,230.39 Z" fill="#ffbfbf" stroke="none"/><clipPath id="cb3"><path d="M147.50,218.13 L149.01,217.42 L150.51,216.72 L152.02,216.03 L153.53,215.36 L155.03,214.69 L156.54,214.03 L158.04,213.38 L159.55,212.74 L161.06,212.10 L162.56,211.47 L164.07,210.85 L165.58,210.23 L167.08,209.62 L168.59,209.01 L170.09,208.41 L171.60,207.81 L173.11,207.21 L174.61,206.61 L176.12,206.01 L177.63,205.42 L179.13,204.82 L180.64,204.22 L182.15,203.62 L183.65,203.02 L185.16,202.41 L186.66,201.80 L188.17,201.18 L189.68,200.56 L191.18,199.93 L192.69,199.29 L194.20,198.64 L195.70,197.98 L197.21,197.31 L198.72,196.62 L200.22,195.93 L201.73,195.22 L203.23,194.50 L204.74,193.76 L206.25,193.00 L207.75,192.23 L209.26,191.44 L210.77,190.64 L212.27,189.82 L213.78,188.99 L215.28,188.14 L216.79,187.28 L218.30,186.40 L219.80,185.51 L221.31,184.60 L222.82,183.68 L224.32,182.74 L225.83,181.79 L227.34,180.83 L228.84,179.85 L230.35,178.85 L231.85,177.85 L233.36,176.83 L234.87,175.79 L236.37,174.75 L237.88,173.68 L239.39,172.61 L240.89,171.52 L242.40,170.42 L243.91,169.31 L245.41,168.19 L246.92,167.05 L248.42,165.90 L249.93,164.74 L251.44,163.56 L252.94,162.38 L254.45,161.18 L255.96,159.97 L257.46,158.75 L258.97,157.51 L260.47,156.27 L261.98,155.01 L263.49,153.74 L264.99,152.47 L266.50,151.18 L268.01,149.88 L269.51,148.57 L271.02,147.25 L272.53,145.91 L274.03,144.57 L275.54,143.22 L277.04,141.87 L278.55,140.50 L280.06,139.12 L281.56,137.74 L283.07,136.35 L284.58,134.96 L286.08,133.56 L287.59,132.15 L289.09,130.74 L290.60,129.33 L292.11,127.91 L293.61,126.49 L295.12,125.06 L296.63,123.63 L298.13,122.20 L299.64,120.77 L301.15,119.34 L302.65,117.90 L304.16,116.47 L305.66,115.04 L307.17,113.60 L308.68,112.17 L310.18,110.74 L311.69,109.31 L313.20,107.88 L314.70,106.46 L316.21,105.04 L317.72,103.63 L319.22,102.22 L320.73,100.81 L322.23,99.41 L323.74,98.01 L325.25,96.62 L326.75,95.24 L328.26,93.87 L329.77,92.50 L331.27,91.14 L332.78,89.79 L334.28,88.45 L335.79,87.11 L337.30,85.79 L338.80,84.48 L340.31,83.18 L341.82,81.89 L343.32,80.61 L344.83,79.34 L346.34,78.09 L347.84,76.85 L349.35,75.63 L350.85,74.41 L352.36,73.22 L353.87,72.03 L355.37,70.87 L356.88,69.72 L358.39,68.58 L359.89,67.47 L361.40,66.37 L362.91,65.28 L364.41,64.22 L365.92,63.17 L367.42,62.15 L368.93,61.14 L370.44,60.16 L371.94,59.19 L373.45,58.25 L374.96,57.32 L376.46,56.42 L377.97,55.54 L379.47,54.69 L380.98,53.86 L382.49,53.05 L383.99,52.27 L385.50,51.51 L385.50,57.84 L383.99,58.58 L382.49,59.35 L380.98,60.14 L379.47,60.96 L377.97,61.81 L376.46,62.68 L374.96,63.58 L373.45,64.51 L371.94,65.45 L370.44,66.43 L368.93,67.42 L367.42,68.44 L365.92,69.48 L364.41,70.55 L362.91,71.63 L361.40,72.73 L359.89,73.86 L358.39,75.00 L356.88,76.16 L355.37,77.34 L353.87,78.54 L352.36,79.76 L350.85,80.99 L349.35,82.24 L347.84,83.50 L346.34,84.78 L344.83,86.07 L343.32,87.38 L341.82,88.70 L340.31,90.03 L338.80,91.37 L337.30,92.73 L335.79,94.09 L334.28,95.47 L332.78,96.86 L331.27,98.25 L329.77,99.65 L328.26,101.07 L326.75,102.49 L325.25,103.91 L323.74,105.35 L322.23,106.78 L320.73,108.23 L319.22,109.68 L317.72,111.13 L316.21,112.59 L314.70,114.04 L313.20,115.51 L311.69,116.97 L310.18,118.43 L308.68,119.90 L307.17,121.36 L305.66,122.83 L304.16,124.29 L302.65,125.76 L301.15,127.22 L299.64,128.67 L298.13,130.13 L296.63,131.58 L295.12,133.03 L293.61,134.47 L292.11,135.90 L290.60,137.33 L289.09,138.75 L287.59,140.17 L286.08,141.58 L284.58,142.98 L283.07,144.37 L281.56,145.75 L280.06,147.12 L278.55,148.48 L277.04,149.83 L275.54,151.17 L274.03,152.49 L272.53,153.81 L271.02,155.11 L269.51,156.39 L268.01,157.66 L266.50,158.92 L264.99,160.16 L263.49,161.39 L261.98,162.60 L260.47,163.81 L258.97,164.99 L257.46,166.17 L255.96,167.33 L254.45,168.48 L252.94,169.62 L251.44,170.75 L249.93,171.86 L248.42,172.96 L246.92,174.05 L245.41,175.13 L243.91,176.20 L242.40,177.25 L240.89,178.30 L239.39,179.33 L237.88,180.36 L236.37,181.37 L234.87,182.38 L233.36,183.37 L231.85,184.36 L230.35,185.33 L228.84,186.30 L227.34,187.26 L225.83,188.20 L224.32,189.14 L222.82,190.08 L221.31,191.00 L219.80,191.92 L218.30,192.82 L216.79,193.72 L215.28,194.62 L213.78,195.50 L212.27,196.38 L210.77,197.25 L209.26,198.12 L207.75,198.97 L206.25,199.83 L204.74,200.67 L203.23,201.51 L201.73,202.35 L200.22,203.18 L198.72,204.00 L197.21,204.82 L195.70,205.64 L194.20,206.45 L192.69,207.26 L191.18,208.06 L189.68,208.85 L188.17,209.65 L186.66,210.44 L185.16,211.23 L183.65,212.01 L182.15,212.79 L180.64,213.57 L179.13,214.34 L177.63,215.12 L176.12,215.89 L174.61,216.66 L173.11,217.43 L171.60,218.19 L170.09,218.96 L168.59,219.72 L167.08,220.48 L165.58,221.24 L164.07,222.00 L162.56,222.76 L161.06,223.52 L159.55,224.28 L158.04,225.05 L156.54,225.81 L155.03,226.57 L153.53,227.33 L152.02,228.10 L150.51,228.86 L149.01,229.63 L147.50,230.39 Z"/></clipPath><path clip-path="url(#cb3)" d="M152.15,49.6 V232.5 M156.64,49.6 V232.5 M161.12,49.6 V232.5 M165.61,49.6 V232.5 M170.10,49.6 V232.5 M174.59,49.6 V232.5 M179.07,49.6 V232.5 M183.56,49.6 V232.5 M188.05,49.6 V232.5 M192.54,49.6 V232.5 M197.03,49.6 V232.5 M201.51,49.6 V232.5 M206.00,49.6 V232.5 M210.49,49.6 V232.5 M214.97,49.6 V232.5 M219.46,49.6 V232.5 M223.95,49.6 V232.5 M228.44,49.6 V232.5 M232.93,49.6 V232.5 M237.41,49.6 V232.5 M241.90,49.6 V232.5 M246.39,49.6 V232.5 M250.88,49.6 V232.5 M255.36,49.6 V232.5 M259.85,49.6 V232.5 M264.34,49.6 V232.5 M268.82,49.6 V232.5 M273.31,49.6 V232.5 M277.80,49.6 V232.5 M282.29,49.6 V232.5 M286.77,49.6 V232.5 M291.26,49.6 V232.5 M295.75,49.6 V232.5 M300.24,49.6 V232.5 M304.73,49.6 V232.5 M309.21,49.6 V232.5 M313.70,49.6 V232.5 M318.19,49.6 V232.5 M322.68,49.6 V232.5 M327.16,49.6 V232.5 M331.65,49.6 V232.5 M336.14,49.6 V232.5 M340.62,49.6 V232.5 M345.11,49.6 V232.5 M349.60,49.6 V232.5 M354.09,49.6 V232.5 M358.57,49.6 V232.5 M363.06,49.6 V232.5 M367.55,49.6 V232.5 M372.04,49.6 V232.5 M376.52,49.6 V232.5 M381.01,49.6 V232.5" fill="none" stroke="#fff" stroke-width="1.0" stroke-opacity="0.11"/>
</g>
<path d="M27.00,237.45 L28.50,237.18 L30.00,236.90 L31.50,236.62 L33.00,236.33 L34.51,236.04 L36.01,235.74 L37.51,235.44 L39.01,235.13 L40.51,234.82 L42.01,234.50 L43.51,234.18 L45.01,233.85 L46.51,233.52 L48.01,233.18 L49.52,232.84 L51.02,232.49 L52.52,232.14 L54.02,231.78 L55.52,231.42 L57.02,231.05 L58.52,230.68 L60.02,230.30 L61.52,229.92 L63.02,229.53 L64.53,229.14 L66.03,228.74 L67.53,228.34 L69.03,227.93 L70.53,227.52 L72.03,227.10 L73.53,226.68 L75.03,226.25 L76.53,225.82 L78.03,225.38 L79.54,224.94 L81.04,224.49 L82.54,224.04 L84.04,223.58 L85.54,223.12 L87.04,222.65 L88.54,222.17 L90.04,221.70 L91.54,221.21 L93.04,220.72 L94.55,220.23 L96.05,219.73 L97.55,219.22 L99.05,218.71 L100.55,218.20 L102.05,217.68 L103.55,217.15 L105.05,216.62 L106.55,216.09 L108.05,215.54 L109.56,215.00 L111.06,214.45 L112.56,213.89 L114.06,213.33 L115.56,212.76 L117.06,212.19 L118.56,211.61 L120.06,211.02 L121.56,210.44 L123.06,209.84 L124.57,209.24 L126.07,208.64 L127.57,208.03 L129.07,207.41 L130.57,206.79 L132.07,206.17 L133.57,205.53 L135.07,204.90 L136.57,204.26 L138.07,203.61 L139.58,202.96 L141.08,202.30 L142.58,201.63 L144.08,200.96 L145.58,200.29 L147.08,199.61 L148.58,198.93 L150.08,198.23 L151.58,197.54 L153.08,196.84 L154.59,196.13 L156.09,195.42 L157.59,194.70 L159.09,193.98 L160.59,193.25 L162.09,192.51 L163.59,191.77 L165.09,191.03 L166.59,190.28 L168.09,189.52 L169.60,188.76 L171.10,187.99 L172.60,187.22 L174.10,186.44 L175.60,185.66 L177.10,184.87 L178.60,184.07 L180.10,183.27 L181.60,182.46 L183.10,181.65 L184.61,180.83 L186.11,180.01 L187.61,179.18 L189.11,178.35 L190.61,177.51 L192.11,176.66 L193.61,175.81 L195.11,174.96 L196.61,174.09 L198.11,173.23 L199.62,172.35 L201.12,171.47 L202.62,170.59 L204.12,169.70 L205.62,168.80 L207.12,167.90 L208.62,166.99 L210.12,166.08 L211.62,165.16 L213.12,164.23 L214.63,163.30 L216.13,162.37 L217.63,161.42 L219.13,160.48 L220.63,159.52 L222.13,158.56 L223.63,157.60 L225.13,156.63 L226.63,155.65 L228.13,154.67 L229.64,153.68 L231.14,152.68 L232.64,151.68 L234.14,150.68 L235.64,149.67 L237.14,148.65 L238.64,147.63 L240.14,146.60 L241.64,145.56 L243.14,144.52 L244.65,143.48 L246.15,142.42 L247.65,141.36 L249.15,140.30 L250.65,139.23" fill="none" stroke="#000" stroke-width="0.9"/>
<rect x="26.50" y="16.90" width="359.00" height="250.40" fill="none" stroke="#000" stroke-width="1.0"/>
<path d="M157.80,215.60 V229.30 M155.80,215.60 h4.0 M155.80,229.30 h4.0 M155.70,222.50 h4.2 M157.80,220.40 v4.2 M203.85,191.30 V200.30 M201.85,191.30 h4.0 M201.85,200.30 h4.0 M201.75,195.80 h4.2 M203.85,193.70 v4.2 M256.15,157.70 V166.30 M254.15,157.70 h4.0 M254.15,166.30 h4.0 M254.05,162.00 h4.2 M256.15,159.90 v4.2 M302.10,119.75 V129.40 M300.10,119.75 h4.0 M300.10,129.40 h4.0 M300.00,124.50 h4.2 M302.10,122.40 v4.2 M354.60,69.60 V76.30 M352.60,69.60 h4.0 M352.60,76.30 h4.0 M352.50,73.00 h4.2 M354.60,70.90 v4.2" fill="none" stroke="#ff4040" stroke-width="0.62"/>
<path d="M98.30,225.95 V244.30 M96.30,225.95 h4.0 M96.30,244.30 h4.0 M96.20,233.20 l4.2,4.2 M96.20,237.40 l4.2,-4.2 M137.85,215.55 V233.30 M135.85,215.55 h4.0 M135.85,233.30 h4.0 M135.75,222.40 l4.2,4.2 M135.75,226.60 l4.2,-4.2 M184.40,205.50 V219.40 M182.40,205.50 h4.0 M182.40,219.40 h4.0 M182.30,210.30 l4.2,4.2 M182.30,214.50 l4.2,-4.2 M234.30,165.45 V182.40 M232.30,165.45 h4.0 M232.30,182.40 h4.0 M232.20,171.70 l4.2,4.2 M232.20,175.90 l4.2,-4.2 M277.30,116.40 V126.40 M275.30,116.40 h4.0 M275.30,126.40 h4.0 M275.20,119.20 l4.2,4.2 M275.20,123.40 l4.2,-4.2 M335.85,76.60 V83.10 M333.85,76.60 h4.0 M333.85,83.10 h4.0 M333.75,77.90 l4.2,4.2 M333.75,82.10 l4.2,-4.2" fill="none" stroke="#2cae2c" stroke-width="0.62"/>
<path d="M84.80,235.40 V254.10 M82.80,235.40 h4.0 M82.80,254.10 h4.0 M82.70,242.70 l4.2,4.2 M82.70,246.90 l4.2,-4.2 M82.70,244.80 h4.2 M84.80,242.70 v4.2 M119.30,206.50 V228.20 M117.30,206.50 h4.0 M117.30,228.20 h4.0 M117.20,214.80 l4.2,4.2 M117.20,219.00 l4.2,-4.2 M117.20,216.90 h4.2 M119.30,214.80 v4.2 M166.20,184.40 V203.20 M164.20,184.40 h4.0 M164.20,203.20 h4.0 M164.10,191.80 l4.2,4.2 M164.10,196.00 l4.2,-4.2 M164.10,193.90 h4.2 M166.20,191.80 v4.2 M220.50,163.50 V185.20 M218.50,163.50 h4.0 M218.50,185.20 h4.0 M218.40,172.10 l4.2,4.2 M218.40,176.30 l4.2,-4.2 M218.40,174.20 h4.2 M220.50,172.10 v4.2 M267.20,126.45 V141.70 M265.20,126.45 h4.0 M265.20,141.70 h4.0 M265.10,131.90 l4.2,4.2 M265.10,136.10 l4.2,-4.2 M265.10,134.00 h4.2 M267.20,131.90 v4.2 M318.80,74.55 V93.20 M316.80,74.55 h4.0 M316.80,93.20 h4.0 M316.70,81.70 l4.2,4.2 M316.70,85.90 l4.2,-4.2 M316.70,83.80 h4.2 M318.80,81.70 v4.2 M370.05,32.40 V50.50 M368.05,32.40 h4.0 M368.05,50.50 h4.0 M367.95,39.25 l4.2,4.2 M367.95,43.45 l4.2,-4.2 M367.95,41.35 h4.2 M370.05,39.25 v4.2" fill="none" stroke="#3838ff" stroke-width="0.62"/>
<path d="M331.00,214.50 H368.25" stroke="#000" stroke-width="0.9" fill="none"/>
<path d="M331.00,228.75 H368.25 M331.00,226.75 v4.0 M368.25,226.75 v4.0 M347.52,228.75 h4.2 M349.62,226.65 v4.2" fill="none" stroke="#ff4040" stroke-width="0.62"/>
<path d="M331.00,243.00 H368.25 M331.00,241.00 v4.0 M368.25,241.00 v4.0 M347.52,240.90 l4.2,4.2 M347.52,245.10 l4.2,-4.2" fill="none" stroke="#2cae2c" stroke-width="0.62"/>
<path d="M331.00,257.25 H368.25 M331.00,255.25 v4.0 M368.25,255.25 v4.0 M347.52,255.15 l4.2,4.2 M347.52,259.35 l4.2,-4.2 M347.52,257.25 h4.2 M349.62,255.15 v4.2" fill="none" stroke="#3838ff" stroke-width="0.62"/>
</svg>
<div style="position:absolute;left:0;top:0;width:411px;height:296px;will-change:transform;">
<div class="t" style="right:393.40px;bottom:28.55px;font-size:14px;">0</div>
<div class="t" style="right:393.40px;bottom:70.28px;font-size:14px;">1</div>
<div class="t" style="right:393.40px;bottom:112.02px;font-size:14px;">2</div>
<div class="t" style="right:393.40px;bottom:153.75px;font-size:14px;">3</div>
<div class="t" style="right:393.40px;bottom:195.48px;font-size:14px;">4</div>
<div class="t" style="right:393.40px;bottom:237.22px;font-size:14px;">5</div>
<div class="t" style="right:393.40px;bottom:278.95px;font-size:14px;">6</div>
<div class="t" style="left:28.50px;width:100px;margin-left:-50px;text-align:center;bottom:14.85px;font-size:14px;">120</div>
<div class="t" style="left:73.38px;width:100px;margin-left:-50px;text-align:center;bottom:14.85px;font-size:14px;">130</div>
<div class="t" style="left:118.25px;width:100px;margin-left:-50px;text-align:center;bottom:14.85px;font-size:14px;">140</div>
<div class="t" style="left:163.12px;width:100px;margin-left:-50px;text-align:center;bottom:14.85px;font-size:14px;">150</div>
<div class="t" style="left:208.00px;width:100px;margin-left:-50px;text-align:center;bottom:14.85px;font-size:14px;">160</div>
<div class="t" style="left:252.88px;width:100px;margin-left:-50px;text-align:center;bottom:14.85px;font-size:14px;">170</div>
<div class="t" style="left:297.75px;width:100px;margin-left:-50px;text-align:center;bottom:14.85px;font-size:14px;">180</div>
<div class="t" style="left:342.62px;width:100px;margin-left:-50px;text-align:center;bottom:14.85px;font-size:14px;">190</div>
<div class="t" style="left:387.50px;width:100px;margin-left:-50px;text-align:center;bottom:14.85px;font-size:14px;">200</div>
<div class="t" style="left:39.50px;bottom:261.32px;font-size:14.2px;">(&epsilon;-3p)/T<span style="font-size:10.2px;position:relative;top:-6.4px">4</span></div>
<div class="t" style="left:196.90px;bottom:49.92px;font-size:14.2px;">T [MeV]</div>
<div class="t" style="right:87.90px;bottom:81.92px;font-size:14.2px;">HRG</div>
<div class="t" style="right:87.90px;bottom:67.67px;font-size:14.2px;">N&tau;=06</div>
<div class="t" style="right:87.90px;bottom:53.42px;font-size:14.2px;">N&tau;=08</div>
<div class="t" style="right:87.90px;bottom:39.17px;font-size:14.2px;">N&tau;=10</div>
</div>
</body></html>
